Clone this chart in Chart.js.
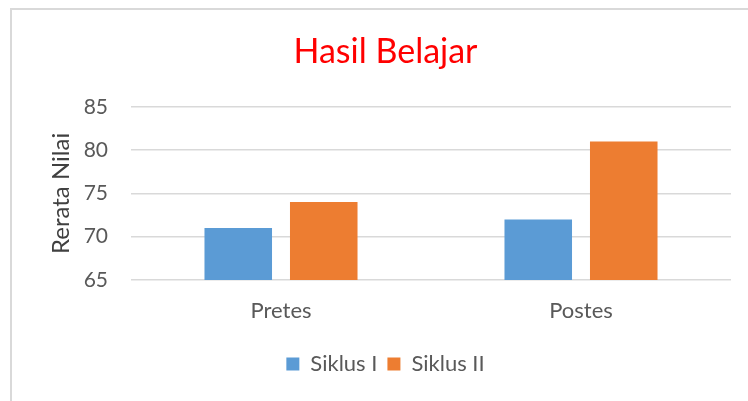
<!DOCTYPE html>
<html>
<head>
<meta charset="utf-8">
<script src="https://cdn.jsdelivr.net/npm/chart.js@4/dist/chart.umd.min.js"></script>
<style>
  html, body { margin: 0; padding: 0; background: #fff; overflow: hidden; }
  #frame {
    position: absolute; left: 10px; top: 8px;
    width: 760px; height: 410px;
    border: 2px solid #d9d9d9; box-sizing: border-box;
  }
  #wrap { position: absolute; left: 0; top: 0; width: 756px; height: 400px; }
</style>
</head>
<body>
<div id="frame"><div id="wrap"><canvas id="hasilChart"></canvas></div></div>
<script>
// data
const categories = ["Pretes", "Postes"];
const siklus1 = [71, 72];
const siklus2 = [74, 81];
const seriesNames = ["Siklus I", "Siklus II"];
const yTicks = [65, 70, 75, 80, 85];

const font = "Lato, Carlito, 'Open Sans', sans-serif";

document.addEventListener("DOMContentLoaded", () => {
  renderChart();
});

function renderChart() {
  const ctx = document.getElementById("hasilChart").getContext("2d");
  new Chart(ctx, {
    type: "bar",
    data: {
      labels: categories,
      datasets: [
        { label: seriesNames[0], data: siklus1, backgroundColor: "#5B9BD5" },
        { label: seriesNames[1], data: siklus2, backgroundColor: "#ED7D31" }
      ]
    },
    options: {
      responsive: true,
      maintainAspectRatio: false,
      animation: false,
      categoryPercentage: 0.57,
      barPercentage: 0.79,
      layout: { padding: { left: 28, right: 37, top: 0, bottom: 25 } },
      plugins: {
        title: {
          display: true,
          text: "Hasil Belajar",
          color: "#ff0000",
          font: { family: font, size: 34, weight: "normal" },
          padding: { top: 22, bottom: 34 }
        },
        legend: {
          position: "bottom",
          labels: {
            boxWidth: 13, boxHeight: 13, padding: 10,
            color: "#595959",
            font: { family: font, size: 22 }
          }
        },
        tooltip: { enabled: false }
      },
      scales: {
        x: {
          grid: { display: false, drawTicks: false },
          border: { display: false },
          ticks: { color: "#595959", padding: 18, font: { family: font, size: 22 } },
          afterFit: (s) => { s.height = 63; }
        },
        y: {
          min: yTicks[0],
          max: yTicks[yTicks.length - 1],
          afterBuildTicks: (s) => { s.ticks = yTicks.map(v => ({ value: v })); },
          grid: { color: "#d9d9d9", lineWidth: 1.5, drawTicks: false },
          border: { display: false },
          ticks: { color: "#595959", padding: 23, font: { family: font, size: 21 } },
          title: {
            display: true, text: "Rerata Nilai", color: "#404040",
            font: { family: font, size: 24 }, padding: { top: 7, bottom: 0 }
          },
          afterFit: (s) => { s.width = 91; }
        }
      }
    }
  });
}
</script>
</body>
</html>
